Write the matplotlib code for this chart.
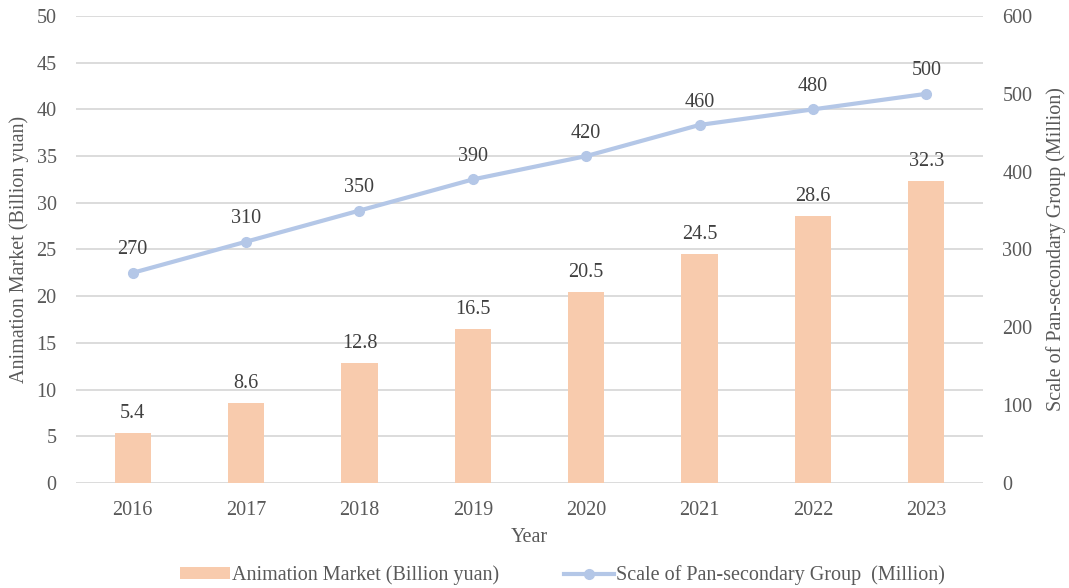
import matplotlib
matplotlib.use("Agg")
import matplotlib.pyplot as plt
from matplotlib.lines import Line2D
from matplotlib.patches import Patch

years = ["2016", "2017", "2018", "2019", "2020", "2021", "2022", "2023"]
market = [5.4, 8.6, 12.8, 16.5, 20.5, 24.5, 28.6, 32.3]
group = [270, 310, 350, 390, 420, 460, 480, 500]

BAR = "#F8CBAD"
LINE = "#B4C7E7"
TXT = "#595959"
GRID = "#D9D9D9"
FS = 14.5

plt.rcParams["font.family"] = ["Liberation Serif", "DejaVu Serif"]
plt.rcParams["font.size"] = FS

fig = plt.figure(figsize=(10.69, 5.88), dpi=100)
ax = fig.add_axes([0.0711, 0.1786, 0.8484, 0.7942])
x = list(range(len(years)))

ax.bar(x, market, width=0.32, color=BAR, zorder=2)
ax.set_ylim(0, 50)
ax.set_yticks(range(0, 51, 5))
ax.set_xlim(-0.5, len(years) - 0.5)
ax.set_xticks(x)
ax.set_xticklabels(years)
ax.grid(axis="y", color=GRID, linewidth=1.3, zorder=0)
ax.set_axisbelow(True)
for s in ax.spines.values():
    s.set_visible(False)
ax.tick_params(length=0, colors=TXT, labelsize=FS)
ax.tick_params(axis="x", pad=13)
ax.tick_params(axis="y", pad=14)
ax.set_xlabel("Year", color=TXT, fontsize=FS, labelpad=6)
ax.set_ylabel("Animation Market (Billion yuan)", color=TXT, fontsize=FS, labelpad=5)
for xi, v in zip(x, market):
    ax.annotate(f"{v}", (xi, v), xytext=(0, 14), textcoords="offset points",
                ha="center", va="center", color="#404040", fontsize=FS)

ax2 = ax.twinx()
ax2.plot(x, group, color=LINE, linewidth=3, marker="o", markersize=7, zorder=3)
ax2.set_ylim(0, 600)
ax2.set_yticks(range(0, 601, 100))
for s in ax2.spines.values():
    s.set_visible(False)
ax2.tick_params(length=0, colors=TXT, labelsize=FS, pad=14)
ax2.set_ylabel("Scale of Pan-secondary Group (Million)", color=TXT, fontsize=FS, labelpad=10)
for xi, v in zip(x, group):
    ax2.annotate(f"{v}", (xi, v), xytext=(0, 16.5), textcoords="offset points",
                 ha="center", va="center", color="#404040", fontsize=FS)

handles = [Patch(facecolor=BAR, edgecolor="none"),
           Line2D([0], [0], color=LINE, linewidth=3, marker="o", markersize=7)]
fig.legend(handles, ["Animation Market (Billion yuan)", "Scale of Pan-secondary Group  (Million)"],
           loc="lower center", bbox_to_anchor=(0.526, -0.026), ncol=2, frameon=False,
           fontsize=FS, labelcolor=TXT, handlelength=2.5, handleheight=0.5,
           handletextpad=0.1, columnspacing=3.2)

fig.savefig("out.png", dpi=100)
